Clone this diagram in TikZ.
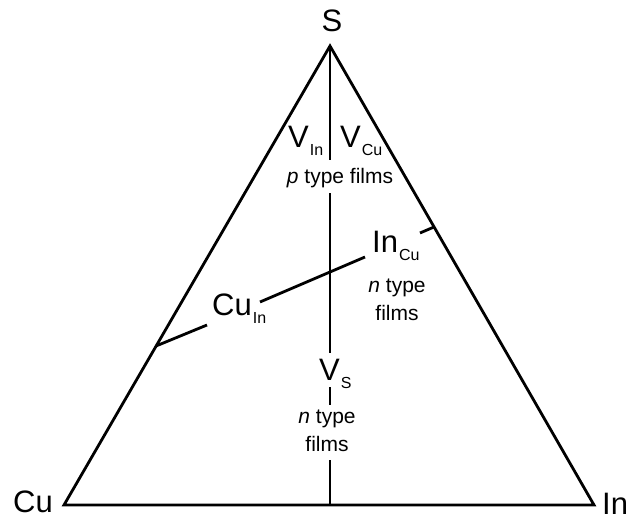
\documentclass[tikz,border=0pt]{standalone}
\usepackage{fontspec}
\setmainfont{Liberation Sans}
\newcommand{\bigf}{\fontsize{31}{31}\selectfont}
\newcommand{\smallf}{\fontsize{21}{28}\selectfont}
\newcommand{\subf}{\fontsize{16}{16}\selectfont}
\newcommand{\lab}[2]{{\bigf #1\kern1pt\raisebox{-8pt}{\subf #2}}}
\begin{document}
\begin{tikzpicture}[x=1pt,y=-1pt,
  edge/.style={line width=2.8pt, line join=miter, line cap=butt},
  bigtxt/.style={inner sep=0pt, font=\bigf},
  smalltxt/.style={inner sep=0pt, font=\smallf, align=center}]
\useasboundingbox (0,0) rectangle (629,522);
% vertices
\coordinate (Cu) at (64,505);
\coordinate (In) at (594,505);
\coordinate (S) at (330,46);
\draw[edge] (Cu) -- (In) -- (S) -- cycle;
% vertical line segments
\coordinate (v1) at (330,160);
\coordinate (v2) at (330,193);
\coordinate (v3) at (330,353);
\coordinate (v4) at (330,387);
\coordinate (v5) at (330,405);
\coordinate (v6) at (330,460);
\coordinate (vb) at (330,505);
\draw[edge] (S) -- (v1);
\draw[edge] (v2) -- (v3);
\draw[edge] (v4) -- (v5);
\draw[edge] (v6) -- (vb);
% oblique line segments
\coordinate (c1) at (156,346);
\coordinate (c2) at (207,325);
\coordinate (c3) at (260,302);
\coordinate (c4) at (365,257);
\coordinate (c5) at (420,233);
\coordinate (c6) at (434,227);
\draw[edge] (c1) -- (c2);
\draw[edge] (c3) -- (c4);
\draw[edge] (c5) -- (c6);
% labels
\node[bigtxt, anchor=base] (tS) at (332,31) {S};
\node[bigtxt, anchor=base west] (tCu) at (13,512) {Cu};
\node[bigtxt, anchor=base west] (tIn) at (602,514) {In};
\node[inner sep=0pt, anchor=base west] (tVIn) at (288,147) {\lab{V}{In}};
\node[inner sep=0pt, anchor=base west] (tVCu) at (340,147) {\lab{V}{Cu}};
\node[smalltxt, anchor=base] (tp) at (340,183) {\textit{p} type films};
\node[inner sep=0pt, anchor=base west] (tInCu) at (372,252) {\lab{In}{Cu}};
\node[smalltxt, anchor=base] (tn1) at (397,320) {\textit{n} type\\films};
\node[inner sep=0pt, anchor=base west] (tCuIn) at (212,315) {\lab{Cu}{In}};
\node[inner sep=0pt, anchor=base west] (tVS) at (319,380) {\lab{V}{S}};
\node[smalltxt, anchor=base] (tn2) at (327,451) {\textit{n} type\\films};
\end{tikzpicture}
\end{document}
